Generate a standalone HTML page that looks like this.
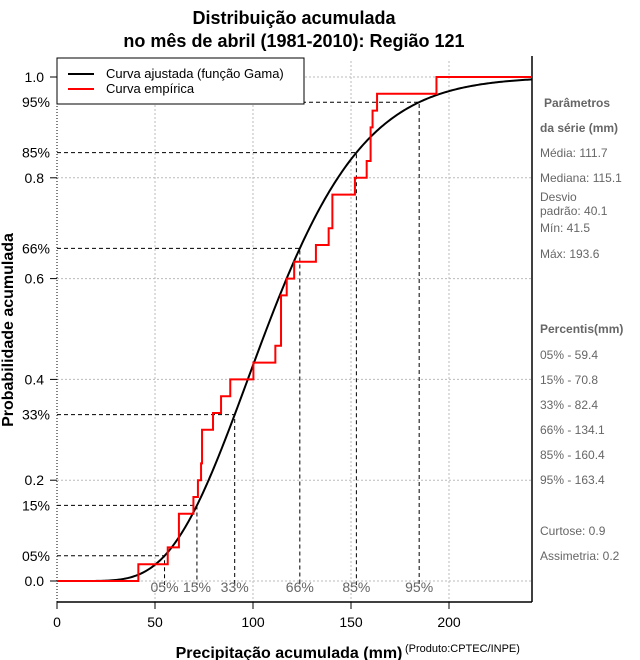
<!DOCTYPE html>
<html><head><meta charset="utf-8"><style>
body{margin:0;background:#fff;}
svg{display:block;font-family:"Liberation Sans",sans-serif;}
</style></head><body>
<svg id="c" width="640" height="660" viewBox="0 0 640 660" xmlns="http://www.w3.org/2000/svg">
<g id="grid"></g>
<g id="refs"></g>
<g id="axes"></g>
<g id="series"></g>
<text x="294" y="24" text-anchor="middle" font-size="18" font-weight="bold">Distribuição acumulada</text>
<text x="294" y="47" text-anchor="middle" font-size="18" font-weight="bold">no mês de abril (1981-2010): Região 121</text>
<text transform="translate(13,330) rotate(-90)" text-anchor="middle" font-size="16" font-weight="bold">Probabilidade acumulada</text>
<text x="289" y="658" text-anchor="middle" font-size="16" font-weight="bold">Precipitação acumulada (mm)</text>
<text x="405" y="652" font-size="11">(Produto:CPTEC/INPE)</text>
<g>
<rect x="57" y="58" width="247" height="46" fill="#fff" stroke="#000" stroke-width="1"/>
<line x1="68" y1="74" x2="94" y2="74" stroke="#000" stroke-width="2"/>
<text x="106" y="78" font-size="13">Curva ajustada (função Gama)</text>
<line x1="68" y1="89" x2="94" y2="89" stroke="#f00" stroke-width="2"/>
<text x="106" y="93" font-size="13">Curva empírica</text>
</g>
<g fill="#666" font-size="12">
<text x="544" y="107" font-weight="bold">Parâmetros</text>
<text x="540" y="132" font-weight="bold">da série (mm)</text>
<text x="540" y="157">Média: 111.7</text>
<text x="540" y="182">Mediana: 115.1</text>
<text x="540" y="201">Desvio</text>
<text x="540" y="215">padrão: 40.1</text>
<text x="540" y="232">Mín: 41.5</text>
<text x="540" y="258">Máx: 193.6</text>
<text x="540" y="333" font-weight="bold">Percentis(mm)</text>
<text x="540" y="359">05% - 59.4</text>
<text x="540" y="384">15% - 70.8</text>
<text x="540" y="409">33% - 82.4</text>
<text x="540" y="434">66% - 134.1</text>
<text x="540" y="459">85% - 160.4</text>
<text x="540" y="484">95% - 163.4</text>
<text x="540" y="535">Curtose: 0.9</text>
<text x="540" y="560">Assimetria: 0.2</text>
</g>
</svg>
<script>
const NS="http://www.w3.org/2000/svg";
const sample=[41.5,56.5,62.2,62.2,69.6,71.9,73.5,74,74,79.6,83.7,88.4,100.2,111.4,114.3,114.3,114.3,117.2,121,132.1,138.6,140.5,140.5,152,158,160,160,161,163.3,193.6];
const gammaMean=111.7;
const gammaSd=40.1;
const xTicks=[0,50,100,150,200];
const yTicks=[0,0.2,0.4,0.6,0.8,1.0];
const yTickLabels=["0.0","0.2","0.4","0.6","0.8","1.0"];
const pctLevels=[0.05,0.15,0.33,0.66,0.85,0.95];
const pctLabels=["05%","15%","33%","66%","85%","95%"];
const X0=57,X1=532,Y0=581,Y1=77,BOT=602,TOP=61,XMAX=(532-57)/1.96;
const sx=v=>X0+v*1.96;
const sy=p=>Y0-(Y0-Y1)*p;
function mk(tag,attrs,parent){const e=document.createElementNS(NS,tag);for(const k in attrs)e.setAttribute(k,attrs[k]);parent.appendChild(e);return e;}
function lgamma(z){const g=7,c=[0.99999999999980993,676.5203681218851,-1259.1392167224028,771.32342877765313,-176.61502916214059,12.507343278686905,-0.13857109526572012,9.9843695780195716e-6,1.5056327351493116e-7];z-=1;let a=c[0];const t=z+g+0.5;for(let i=1;i<9;i++)a+=c[i]/(z+i);return 0.5*Math.log(2*Math.PI)+(z+0.5)*Math.log(t)-t+Math.log(a);}
const k=(gammaMean/gammaSd)**2, th=gammaSd*gammaSd/gammaMean;
function gcdf(x){if(x<=0)return 0;const z=x/th;if(z>k+40)return 1;let sum=1/k,term=1/k;for(let n=1;n<500;n++){term*=z/(k+n);sum+=term;if(term<1e-12*sum)break;}return Math.min(1,Math.exp(-z+k*Math.log(z)-lgamma(k))*sum);}
function q(p){let lo=0,hi=400;for(let i=0;i<60;i++){const m=(lo+hi)/2;if(gcdf(m)<p)lo=m;else hi=m;}return lo;}
const grid=document.getElementById('grid'),axes=document.getElementById('axes'),series=document.getElementById('series'),refs=document.getElementById('refs');
xTicks.forEach(v=>{if(v>0){const l=mk('line',{x1:sx(v),y1:TOP,x2:sx(v),y2:BOT,stroke:'#bbb','stroke-dasharray':'2,2'},grid);

}
const t=mk('line',{x1:sx(v),y1:BOT,x2:sx(v),y2:BOT+7,stroke:'#000'},axes);


const tx=mk('text',{x:sx(v),y:627,'text-anchor':'middle','font-size':'14'},axes);tx.textContent=v;

});
yTicks.forEach((v,i)=>{const l=mk('line',{x1:X0,y1:sy(v),x2:X1,y2:sy(v),stroke:'#bbb','stroke-dasharray':'2,2'},grid);


const t=mk('line',{x1:50,y1:sy(v),x2:X0,y2:sy(v),stroke:'#000'},axes);


const tx=mk('text',{x:44,y:sy(v)+5,'text-anchor':'end','font-size':'14'},axes);tx.textContent=yTickLabels[i];

});
let l=mk('line',{x1:X0,y1:TOP,x2:X0,y2:BOT,stroke:'#000','stroke-dasharray':'1,2'},axes);


l=mk('line',{x1:X0,y1:BOT,x2:X1,y2:BOT,stroke:'#000','stroke-width':'1.5'},axes);


l=mk('line',{x1:X1,y1:TOP-5,x2:X1,y2:BOT,stroke:'#000','stroke-width':'1.5'},axes);


pctLevels.forEach((p,i)=>{const xv=q(p);
const h=mk('path',{d:`M${X0},${sy(p)}H${sx(xv)}V${Y0+4}`,fill:'none',stroke:'#000','stroke-dasharray':'4,3'},refs);


const ly=mk('text',{x:50,y:sy(p)+5,'text-anchor':'end','font-size':'14'},axes);ly.textContent=pctLabels[i];


const lx=mk('text',{x:sx(xv),y:592,'text-anchor':'middle','font-size':'14',fill:'#666'},refs);lx.textContent=pctLabels[i];

});
let d='';for(let i=0;i<=300;i++){const xv=XMAX*i/300;d+=(i?'L':'M')+sx(xv).toFixed(2)+','+sy(gcdf(xv)).toFixed(2);}
const gp=mk('path',{d:d,fill:'none',stroke:'#000','stroke-width':'2'},series);


const s=[...sample].sort((a,b)=>a-b),n=s.length;let e=`M${sx(0)},${sy(0)}`;
s.forEach((v,i)=>{e+=`H${sx(v)}V${sy((i+1)/n)}`;});e+=`H${sx(XMAX)}`;
const ep=mk('path',{d:e,fill:'none',stroke:'#f00','stroke-width':'2'},series);


</script>
</body></html>
